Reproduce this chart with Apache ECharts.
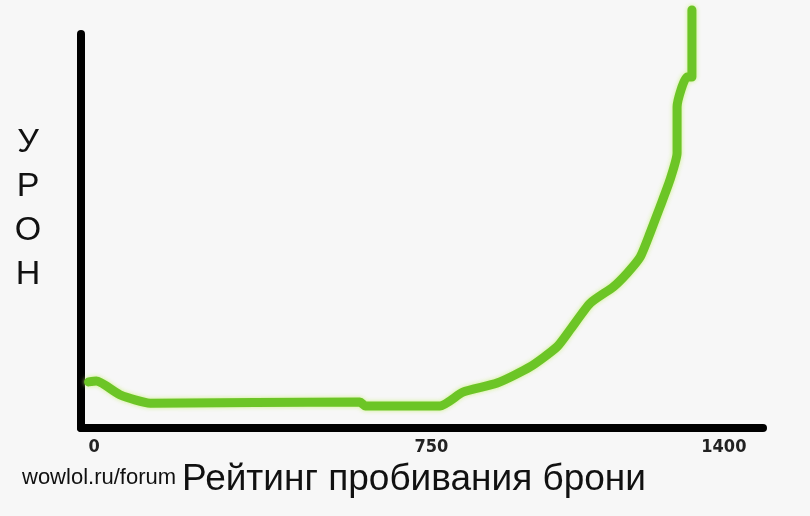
<!DOCTYPE html>
<html>
<head>
<meta charset="utf-8">
<script src="https://cdn.jsdelivr.net/npm/echarts@6/dist/echarts.min.js"></script>
<style>
  html, body { margin: 0; padding: 0; background: #f7f7f7; }
  #chart { width: 810px; height: 516px; }
</style>
</head>
<body>
<div id="chart"></div>
<script>
// рейтинг пробивания (ось X) и урон (ось Y, условные единицы)
var ratingX = [-12, 5, 58, 125, 591, 603, 769, 820, 896, 969, 1029, 1058, 1103, 1154, 1185, 1214, 1236, 1258, 1280, 1296, 1296, 1318, 1329, 1329];
var damageY = [11.7, 11.9, 8.4, 6.3, 6.6, 5.6, 5.6, 9.1, 11.4, 15.5, 20.6, 24.9, 31.7, 35.8, 39.3, 43.4, 49.5, 56.1, 62.9, 69.8, 81.5, 89.1, 89.1, 106.1];
var tickValues = [0, 750, 1400];

var chart = echarts.init(document.getElementById('chart'));

var points = [];
for (var i = 0; i < ratingX.length; i++) {
    points.push([ratingX[i], damageY[i]]);
}

var option = {
    backgroundColor: '#f7f7f7',
    animation: false,
    title: {
        text: 'wowlol.ru/forum',
        left: 17,
        top: 462,
        textStyle: {
            fontFamily: 'Liberation Sans',
            fontSize: 22,
            fontWeight: 'normal',
            color: '#111'
        }
    },
    grid: {
        left: 81,
        right: 47,
        top: 34,
        bottom: 88
    },
    xAxis: {
        type: 'value',
        min: -29,
        max: 1487,
        name: 'Рейтинг пробивания брони',
        nameLocation: 'middle',
        nameGap: 32,
        nameTextStyle: {
            fontFamily: 'Liberation Sans',
            fontSize: 37,
            color: '#111',
            padding: [0, 16, 0, 0]
        },
        splitLine: { show: false },
        axisTick: { show: false },
        axisLine: {
            onZero: false,
            lineStyle: { color: '#000', width: 8, cap: 'round' }
        },
        axisLabel: {
            customValues: tickValues,
            margin: 10,
            fontFamily: 'Liberation Sans Narrow, DejaVu Sans Condensed',
            fontWeight: 'bold',
            fontSize: 18,
            color: '#222',
            formatter: function (v) { return String(v); }
        }
    },
    yAxis: {
        type: 'value',
        min: 0,
        max: 100,
        name: 'У\nР\nО\nН\n ',
        nameLocation: 'middle',
        nameRotate: 0,
        nameGap: 53,
        nameTextStyle: {
            fontFamily: 'Liberation Sans',
            fontSize: 34,
            lineHeight: 44,
            color: '#111',
            align: 'center'
        },
        splitLine: { show: false },
        axisTick: { show: false },
        axisLabel: { show: false },
        axisLine: {
            onZero: false,
            lineStyle: { color: '#000', width: 8, cap: 'round' }
        }
    },
    series: [{
        type: 'line',
        data: points,
        showSymbol: false,
        clip: false,
        smooth: 0.2,
        lineStyle: {
            color: '#6cc526',
            width: 9,
            cap: 'round',
            join: 'round',
            shadowColor: 'rgba(200,240,120,0.9)',
            shadowBlur: 4
        }
    }]
};
chart.setOption(option);
</script>
</body>
</html>
